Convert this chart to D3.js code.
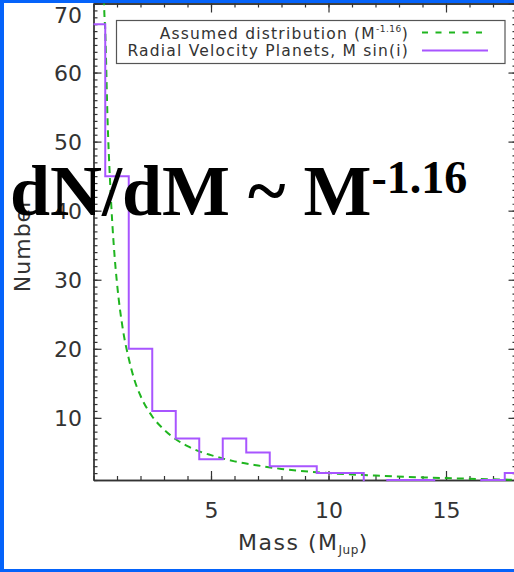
<!DOCTYPE html>
<html>
<head>
<meta charset="utf-8">
<script src="https://cdn.jsdelivr.net/npm/d3@7"></script>
<style>
  html, body { margin: 0; padding: 0; background: #fff; }
  svg { display: block; }
  text { font-family: "DejaVu Sans", sans-serif; fill: #333; }
</style>
</head>
<body>
<svg id="chart" width="514" height="572"></svg>
<script>
// ---- data ----
const binCenters = [0, 1, 2, 3, 4, 5, 6, 7, 8, 9, 10, 11, 12, 13, 14, 15, 16, 17, 18];
const binCounts  = [67, 45, 20, 11, 7, 4, 7, 5, 3, 3, 2, 2, 0, 1, 1, 0, 0, 1, 2];

const modelMass   = [0.42, 0.45, 0.5, 0.6, 0.7, 0.8, 0.9, 1.0, 1.25, 1.5, 1.75, 2, 2.5, 3, 3.5, 4, 4.5, 5, 6, 7, 8, 10, 12, 14, 16, 18];
const modelNumber = [76, 70, 66, 53, 44.6, 38.2, 33.3, 29.5, 22.8, 18.6, 15.4, 13.2, 10.2, 8.3, 6.9, 5.9, 5.15, 4.6, 3.7, 3.1, 2.6, 2.0, 1.65, 1.38, 1.18, 1.03];

const xMajorTicks = [5, 10, 15];
const yMajorTicks = [10, 20, 30, 40, 50, 60, 70];
const xDomain = [0, 18];
const yDomain = [1, 70];

const legendLabels = ["Assumed distribution (M", "-1.16", ")", "Radial Velocity Planets, M sin(i)"];
const xTitle = ["Mass (M", "Jup", ")"];
const yTitle = "Number";
const overlayMain = "dN/dM ~ M";
const overlaySup = "-1.16";

// ---- layout ----
const W = 514, H = 572;
const L = 93.5, R = 516.5, T = 3.5, B = 480;
const svg = d3.select("#chart");
const axisColor = "#333";

const x = d3.scaleLinear().domain(xDomain).range([L, R]);
const y = d3.scaleLinear().domain(yDomain).range([B, T]);

svg.append("rect").attr("width", W).attr("height", H).attr("fill", "#fff");

svg.append("defs").append("clipPath").attr("id", "plotclip")
  .append("rect").attr("x", L).attr("y", T).attr("width", R - L).attr("height", B - T + 1.2);

const xMinor = d3.range(xDomain[0], xDomain[1] + 1);
const yMinor = d3.range(yDomain[0], yDomain[1] + 1);

function styleAxis(g) {
  g.select(".domain").attr("stroke", axisColor).attr("stroke-width", 1.3);
  g.selectAll(".tick line").attr("stroke", axisColor).attr("stroke-width", 1.2);
}

// bottom axis
const gb = svg.append("g").attr("transform", `translate(0,${B})`);
gb.append("g").call(d3.axisBottom(x).tickValues(xMinor).tickSize(-4).tickFormat("").tickSizeOuter(0)).call(styleAxis);
gb.append("g").call(d3.axisBottom(x).tickValues(xMajorTicks).tickSizeInner(-9).tickSizeOuter(0).tickPadding(22.5).tickFormat(d3.format("d")))
  .call(styleAxis)
  .call(g => g.selectAll("text").attr("font-size", 22).attr("fill", "#333").attr("font-family", "DejaVu Sans"));

// top axis
const gt = svg.append("g").attr("transform", `translate(0,${T})`);
gt.append("g").call(d3.axisTop(x).tickValues(xMinor).tickSize(-4).tickFormat("").tickSizeOuter(0)).call(styleAxis);
gt.append("g").call(d3.axisTop(x).tickValues(xMajorTicks).tickSize(-9).tickFormat("").tickSizeOuter(0)).call(styleAxis);

// left axis
const gl = svg.append("g").attr("transform", `translate(${L},0)`);
gl.append("g").call(d3.axisLeft(y).tickValues(yMinor).tickSize(-4).tickFormat("").tickSizeOuter(0)).call(styleAxis);
gl.append("g").call(d3.axisLeft(y).tickValues(yMajorTicks).tickSizeInner(-8).tickSizeOuter(0).tickPadding(11.5).tickFormat(d3.format("d")))
  .call(styleAxis)
  .call(g => g.selectAll("text").attr("font-size", 22).attr("fill", "#333").attr("font-family", "DejaVu Sans")
    .attr("dy", d => d === 70 ? "0.85em" : "0.34em"));

// right axis
const gr = svg.append("g").attr("transform", `translate(${R},0)`);
gr.append("g").call(d3.axisRight(y).tickValues(yMinor).tickSize(-4).tickFormat("").tickSizeOuter(0)).call(styleAxis);
gr.append("g").call(d3.axisRight(y).tickValues(yMajorTicks).tickSize(-8).tickFormat("").tickSizeOuter(0)).call(styleAxis);

// data layers
const plot = svg.append("g").attr("clip-path", "url(#plotclip)");

const greenColor = "#1fb51f";
const purpleColor = "#a855ff";

const model = modelMass.map((m, i) => [m, modelNumber[i]]);
plot.append("path")
  .attr("d", d3.line().x(d => x(d[0])).y(d => y(d[1])).curve(d3.curveMonotoneX)(model))
  .attr("fill", "none").attr("stroke", greenColor).attr("stroke-width", 2)
  .attr("stroke-dasharray", "7,5");

const steps = binCenters.map((c, i) => [c - 0.5, binCounts[i]]);
steps.push([binCenters[binCenters.length - 1] + 0.5, binCounts[binCounts.length - 1]]);
plot.append("path")
  .attr("d", d3.line().x(d => x(d[0])).y(d => y(d[1])).curve(d3.curveStepAfter)(steps))
  .attr("fill", "none").attr("stroke", purpleColor).attr("stroke-width", 2);

// legend
const lg = svg.append("g");
lg.append("rect").attr("x", 116.5).attr("y", 20.5).attr("width", 388.5).attr("height", 43)
  .attr("fill", "#fff").attr("stroke", "#555").attr("stroke-width", 1.2);
const t1 = lg.append("text").attr("x", 409).attr("y", 38.5).attr("text-anchor", "end")
  .attr("font-size", 15.5).attr("letter-spacing", 1.2);
t1.append("tspan").text(legendLabels[0]);
t1.append("tspan").attr("font-size", 9).attr("dy", -7).attr("letter-spacing", 0.5).text(legendLabels[1]);
t1.append("tspan").attr("dy", 7).text(legendLabels[2]);
lg.append("text").attr("x", 409).attr("y", 56).attr("text-anchor", "end")
  .attr("font-size", 15.5).attr("letter-spacing", 1.2).text(legendLabels[3]);
lg.append("line").attr("x1", 422).attr("x2", 488).attr("y1", 32.5).attr("y2", 32.5)
  .attr("stroke", greenColor).attr("stroke-width", 2).attr("stroke-dasharray", "6,7.5");
lg.append("line").attr("x1", 422).attr("x2", 488).attr("y1", 50.5).attr("y2", 50.5)
  .attr("stroke", purpleColor).attr("stroke-width", 2);

// axis titles
const xt = svg.append("text").attr("x", (L + R) / 2 - 1.5).attr("y", 550).attr("text-anchor", "middle")
  .attr("font-size", 22).attr("letter-spacing", 1.5);
xt.append("tspan").text(xTitle[0]);
xt.append("tspan").attr("font-size", 12).attr("dy", 4).attr("letter-spacing", 0.5).text(xTitle[1]);
xt.append("tspan").attr("dy", -4).text(xTitle[2]);

svg.append("text").attr("transform", `translate(29.5,${245}) rotate(-90)`).attr("text-anchor", "middle")
  .attr("font-size", 22).attr("letter-spacing", 1).text(yTitle);

// overlay annotation
const ov = svg.append("text").attr("x", 10).attr("y", 215)
  .style("font-family", "'Liberation Serif', 'Times New Roman', serif").style("font-weight", "bold").style("fill", "#000")
  .attr("font-size", 72);
ov.append("tspan").text(overlayMain);
ov.append("tspan").attr("font-size", 46).attr("dy", -22).text(overlaySup);

// slide border
const blue = "#0563fa";
svg.append("rect").attr("x", 0).attr("y", 0).attr("width", 4).attr("height", H).attr("fill", blue);
svg.append("rect").attr("x", 0).attr("y", 0).attr("width", W).attr("height", 3).attr("fill", blue);
svg.append("rect").attr("x", 0).attr("y", 569).attr("width", W).attr("height", 3).attr("fill", blue);
</script>
</body>
</html>
